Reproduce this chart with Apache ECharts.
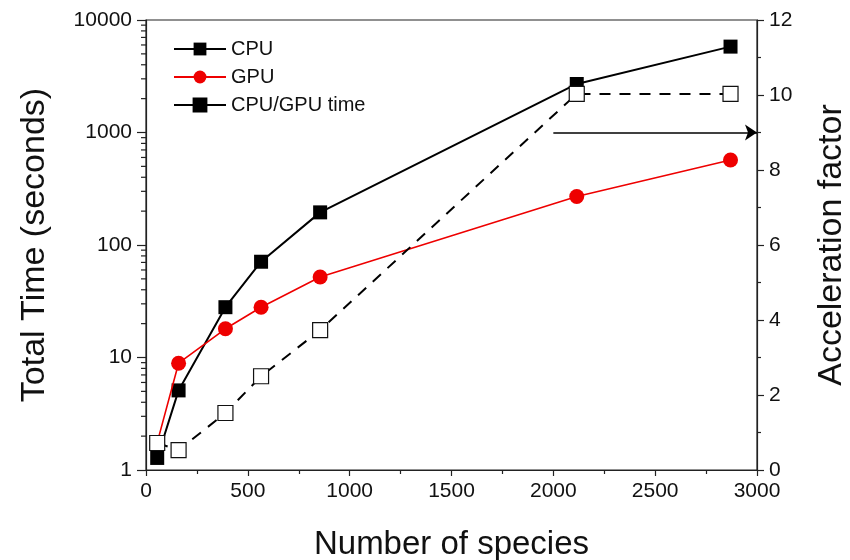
<!DOCTYPE html>
<html>
<head>
<meta charset="utf-8">
<script src="https://cdn.jsdelivr.net/npm/echarts@6/dist/echarts.min.js"></script>
<style>
  html, body { margin: 0; padding: 0; background: #fff; }
  #chart { width: 850px; height: 560px; }
</style>
</head>
<body>
<div id="chart"></div>
<script>
// number of species (x) for every measurement
const species = [55, 160, 390, 565, 855, 2115, 2870];
// total time in seconds (left, log axis)
const cpuTime = [1.28, 5.1, 28, 71, 195, 2700, 5800];
const gpuTime = [1.75, 8.9, 18, 28, 52, 270, 570];
// acceleration factor (right axis)
const speedup = [0.72, 0.53, 1.52, 2.5, 3.73, 10.03, 10.03];
// arrow pointing at the right axis
const arrowLine = [[2000, 9], [3000, 9]];
// minor ticks of the log axis
const logMinor = [];
[1, 10, 100, 1000].forEach((d) => {
  for (let k = 2; k <= 9; k++) logMinor.push(d * k);
});

const font = "Liberation Sans, Arial, sans-serif";
const chart = echarts.init(document.getElementById("chart"), null, { renderer: "canvas" });

const pairs = (ys) => species.map((x, i) => [x, ys[i]]);
const plain = (v) => String(v);
const axisColor = "#222";

const option = {
  animation: false,
  textStyle: { fontFamily: font },
  grid: {
    left: 146, right: 93, top: 20, bottom: 90,
    outerBoundsMode: "none",
    containLabel: false,
    show: true, borderColor: axisColor, borderWidth: 1.2,
  },
  legend: {
    orient: "vertical",
    left: 168, top: 34,
    itemWidth: 52, itemHeight: 16, itemGap: 8,
    textStyle: { fontSize: 20, color: "#111", fontFamily: font },
    data: [
      { name: "CPU" },
      { name: "GPU" },
      {
        name: "CPU/GPU time",
        itemStyle: { color: "#000", borderColor: "#000" },
        lineStyle: { type: "solid", color: "#000" },
      },
    ],
  },
  xAxis: {
    type: "value",
    min: 0, max: 3000, interval: 500,
    name: "Number of species",
    nameLocation: "middle", nameGap: 58,
    nameTextStyle: { fontSize: 33, color: "#111", fontFamily: font },
    axisLine: { lineStyle: { color: axisColor, width: 1.2 } },
    axisTick: { length: 6, lineStyle: { color: axisColor, width: 1.2 } },
    minorTick: { show: true, splitNumber: 2, length: 4, lineStyle: { color: axisColor, width: 1.2 } },
    axisLabel: { fontSize: 21, color: "#111", margin: 11, formatter: plain },
    splitLine: { show: false },
  },
  yAxis: [
    {
      type: "log", logBase: 10,
      min: 1, max: 10000,
      name: "Total Time (seconds)",
      nameLocation: "middle", nameGap: 94,
      nameTextStyle: { fontSize: 34, color: "#111", fontFamily: font },
      axisLine: { show: true, lineStyle: { color: axisColor, width: 1.2 } },
      axisTick: { length: 9, lineStyle: { color: axisColor, width: 1.2 } },
      axisLabel: { fontSize: 21, color: "#111", margin: 14, formatter: plain },
      splitLine: { show: false },
    },
    {
      type: "value",
      min: 0, max: 12, interval: 2,
      position: "right",
      name: "Acceleration factor",
      nameLocation: "middle", nameGap: 58,
      nameRotate: 90,
      nameTextStyle: { fontSize: 34, color: "#111", fontFamily: font },
      axisLine: { show: true, lineStyle: { color: axisColor, width: 1.2 } },
      axisTick: { length: 7, lineStyle: { color: axisColor, width: 1.2 } },
      minorTick: { show: true, splitNumber: 2, length: 4, lineStyle: { color: axisColor, width: 1.2 } },
      axisLabel: { fontSize: 21, color: "#111", margin: 12, formatter: plain },
      splitLine: { show: false },
    },
  ],
  series: [
    {
      name: "CPU",
      type: "line",
      yAxisIndex: 0,
      data: pairs(cpuTime),
      symbol: "rect", symbolSize: 14,
      itemStyle: { color: "#000" },
      lineStyle: { color: "#000", width: 2 },
      z: 3,
    },
    {
      name: "GPU",
      type: "line",
      yAxisIndex: 0,
      data: pairs(gpuTime),
      symbol: "circle", symbolSize: 15,
      itemStyle: { color: "#ee0000" },
      lineStyle: { color: "#ee0000", width: 1.6 },
      z: 4,
    },
    {
      name: "CPU/GPU time",
      type: "line",
      yAxisIndex: 1,
      data: pairs(speedup),
      symbol: "rect", symbolSize: 15,
      itemStyle: { color: "#fff", borderColor: "#111", borderWidth: 1.2 },
      lineStyle: { color: "#000", width: 2, type: [11, 9] },
      z: 5,
      markLine: {
        silent: true,
        symbol: ["none", "arrow"],
        symbolSize: 12,
        label: { show: false },
        lineStyle: { color: "#000", type: "solid", width: 1.5 },
        data: [[{ coord: arrowLine[0] }, { coord: arrowLine[1] }]],
      },
    },
    {
      type: "custom",
      yAxisIndex: 0,
      silent: true,
      data: logMinor.map((v) => [0, v]),
      encode: { x: 0, y: 1 },
      clip: false,
      renderItem: (params, api) => {
        const p = api.coord([0, api.value(1)]);
        return {
          type: "line",
          shape: { x1: p[0] - 5, y1: p[1], x2: p[0], y2: p[1] },
          style: { stroke: axisColor, lineWidth: 1.2 },
        };
      },
    },
  ],
};

chart.setOption(option);
</script>
</body>
</html>
